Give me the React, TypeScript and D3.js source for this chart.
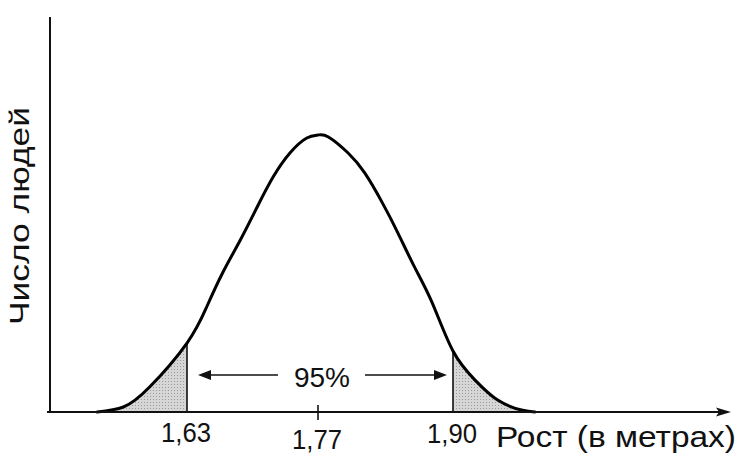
import React from "react";
import * as d3 from "d3";

// Height (m) and relative number of people
const heights = [1.534, 1.562, 1.59, 1.63, 1.651, 1.668, 1.687, 1.705, 1.722, 1.74, 1.758, 1.77, 1.78, 1.799, 1.815, 1.832, 1.847, 1.863, 1.88, 1.9, 1.921, 1.943, 1.966, 1.979];
const counts = [0, 1.8, 9.0, 24.9, 37.9, 50.2, 62.1, 74.0, 84.8, 93.5, 98.9, 100, 99.3, 93.5, 86.3, 75.5, 64.6, 52.3, 39.4, 22.0, 11.6, 4.3, 0.7, 0];
const tickValues = [1.63, 1.77, 1.9];
const tickLabels = ["1,63", "1,77", "1,90"];
const lowerBound = 1.63;
const upperBound = 1.9;
const centerLabel = "95%";
const xTitle = "Рост (в метрах)";
const yTitle = "Число людей";

export default function App() {
  const W = 750;
  const H = 464;
  const axisY = 412;
  const axisX = 50;
  const x = d3.scaleLinear().domain([1.63, 1.77, 1.9]).range([187, 318, 453]);
  const y = d3.scaleLinear().domain([0, 100]).range([axisY, 135]);
  const pts: [number, number][] = heights.map((h, i) => [h, counts[i]]);
  const line = d3
    .line<[number, number]>()
    .x((d) => x(d[0]))
    .y((d) => Math.min(axisY, y(d[1])))
    .curve(d3.curveNatural);
  const area = d3
    .area<[number, number]>()
    .x((d) => x(d[0]))
    .y0(axisY)
    .y1((d) => y(d[1]))
    .curve(d3.curveCatmullRom.alpha(0.5));
  const leftPts = pts.filter((d) => d[0] <= lowerBound);
  const rightPts = pts.filter((d) => d[0] >= upperBound);
  const yAt = (v: number) => y(counts[heights.indexOf(v)]);
  const font = "'Liberation Sans', Arial, Helvetica, sans-serif";
  const arrowY = 375;
  const la0 = x(lowerBound) + 11;
  const la1 = x(lowerBound) + 91;
  const ra0 = x(upperBound) - 88;
  const ra1 = x(upperBound) - 6;
  const tickBase = [442, 449, 443];
  return (
    <svg width={W} height={H} style={{ position: "absolute", left: 0, top: 0, background: "#fff" }}>
      <defs>
        <pattern id="dots" width="3" height="3" patternUnits="userSpaceOnUse">
          <rect width="3" height="3" fill="#d6d6d6" />
          <rect width="1" height="1" fill="#9a9a9a" />
        </pattern>
      </defs>
      {/* shaded tails */}
      <path d={area(leftPts) || ""} fill="url(#dots)" />
      <path d={area(rightPts) || ""} fill="url(#dots)" />
      <line x1={x(lowerBound)} x2={x(lowerBound)} y1={yAt(lowerBound)} y2={axisY} stroke="#111" strokeWidth={1.6} />
      <line x1={x(upperBound)} x2={x(upperBound)} y1={yAt(upperBound)} y2={axisY} stroke="#111" strokeWidth={1.6} />
      {/* curve */}
      <path d={line(pts) || ""} fill="none" stroke="#000" strokeWidth={3} strokeLinejoin="round" strokeLinecap="round" />
      {/* axes */}
      <line x1={axisX} x2={axisX} y1={17} y2={axisY} stroke="#111" strokeWidth={2} />
      <line x1={47} x2={722} y1={axisY} y2={axisY} stroke="#111" strokeWidth={2} />
      <path d={`M731,${axisY} L716,${axisY - 4.5} L719,${axisY} L716,${axisY + 4.5} Z`} fill="#111" />
      {/* center tick */}
      <line x1={x(1.77)} x2={x(1.77)} y1={axisY - 7} y2={axisY + 8} stroke="#111" strokeWidth={1.6} />
      {/* tick labels */}
      {tickValues.map((v, i) => (
        <text
          key={i}
          x={x(v) - 1}
          y={tickBase[i]}
          textAnchor="middle"
          fontFamily={font}
          fontSize={27}
          textLength={50}
          lengthAdjust="spacingAndGlyphs"
          fill="#111"
        >
          {tickLabels[i]}
        </text>
      ))}
      {/* 95% annotation */}
      <text x={322} y={387} textAnchor="middle" fontFamily={font} fontSize={28} fill="#111">
        {centerLabel}
      </text>
      <line x1={la0 + 10} x2={la1} y1={arrowY} y2={arrowY} stroke="#111" strokeWidth={1.6} />
      <path d={`M${la0},${arrowY} L${la0 + 13},${arrowY - 5} L${la0 + 13},${arrowY + 5} Z`} fill="#111" />
      <line x1={ra0} x2={ra1 - 10} y1={arrowY} y2={arrowY} stroke="#111" strokeWidth={1.6} />
      <path d={`M${ra1},${arrowY} L${ra1 - 13},${arrowY - 5} L${ra1 - 13},${arrowY + 5} Z`} fill="#111" />
      {/* axis titles */}
      <text
        x={496}
        y={447}
        fontFamily={font}
        fontSize={29}
        textLength={240}
        lengthAdjust="spacingAndGlyphs"
        fill="#111"
      >
        {xTitle}
      </text>
      <text
        transform="translate(29,216) rotate(-90)"
        textAnchor="middle"
        fontFamily={font}
        fontSize={28}
        textLength={218}
        lengthAdjust="spacingAndGlyphs"
        fill="#111"
      >
        {yTitle}
      </text>
    </svg>
  );
}
